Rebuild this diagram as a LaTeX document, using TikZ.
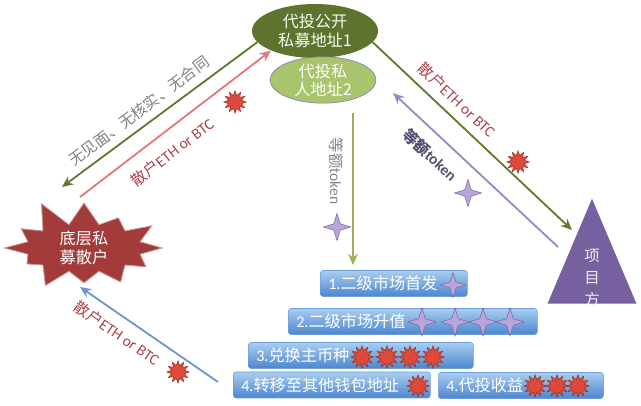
\documentclass[tikz,border=0pt]{standalone}
\usepackage{fontspec}
\setmainfont{Carlito}
\newfontfamily\cjk{Noto Sans CJK SC}
\usetikzlibrary{shapes.geometric,shapes.symbols,arrows.meta}

\definecolor{oliveD}{HTML}{5E742E}
\definecolor{oliveL}{HTML}{A8C46C}
\definecolor{lineG}{HTML}{64792F}
\definecolor{lineV}{HTML}{9AB259}
\definecolor{linePink}{HTML}{E2787B}
\definecolor{linePur}{HTML}{9B87C4}
\definecolor{lineBlue}{HTML}{6F95CF}
\definecolor{crowdRed}{HTML}{A33B3B}
\definecolor{triPur}{HTML}{77609F}
\definecolor{txtRed}{HTML}{AA454B}
\definecolor{txtGray}{HTML}{808080}
\definecolor{txtPur}{HTML}{54506F}
\definecolor{starRed}{HTML}{DD4A3C}
\definecolor{starPur}{HTML}{B9A5DC}
\definecolor{boxTop}{HTML}{A9CDF0}
\definecolor{boxBot}{HTML}{4C86CF}

\tikzset{
	lbl/.style={font=\fontsize{11}{13}\selectfont},
	arr/.style={line width=1.3pt,-{Stealth[length=8pt,width=7pt]}},
	redstar/.style={star, star points=12, star point ratio=1.7, minimum size=0.56cm, inner sep=0pt, fill=starRed, draw=starRed!70!black, line width=0.4pt},
	purstar/.style={star, star points=4, star point ratio=3, minimum size=0.68cm, inner sep=0pt, fill=starPur, draw=linePur!80!black, line width=0.4pt},
	box/.style={rectangle, rounded corners=2pt, top color=boxTop, bottom color=boxBot, draw=boxBot!80!white, text=white, inner xsep=0.2cm, inner ysep=0pt, minimum height=0.65cm, align=left, font=\fontsize{11.5}{13}\selectfont, anchor=west}
}

\begin{document}
\begin{tikzpicture}[x=0.025cm, y=-0.025cm]
	
	\useasboundingbox (0,0) rectangle (641,406);
	
	\node [ellipse, fill=oliveD, text=white!92!oliveL, minimum width=3.15cm, minimum height=1.35cm, inner sep=0pt, align=center, font=\cjk\fontsize{11.5}{14}\selectfont] (pub) at (315,31) {代投公开\\私募地址1};
	
	\node [ellipse, fill=oliveL, draw=blue!30!gray!80, text=white, minimum width=2.65cm, minimum height=1.05cm, inner sep=0pt, align=center, font=\cjk\fontsize{11.5}{12.8}\selectfont] (priv) at (323,80) {代投私\\人地址2};
	
	\node [starburst, starburst points=12, starburst point height=0.7cm, random starburst=11, fill=crowdRed, draw=crowdRed!55!white, line width=0.6pt, minimum width=4.3cm, minimum height=2.4cm, inner sep=0pt, text=white, align=center, font=\cjk\fontsize{11.5}{13.5}\selectfont] (crowd) at (84,248) {底层私\\募散户};
	
	\node [isosceles triangle, isosceles triangle apex angle=46, shape border rotate=90, isosceles triangle stretches, minimum width=2.225cm, minimum height=2.625cm, fill=triPur, inner sep=0pt, anchor=apex] (proj) at (592,198) {};
	\node [align=center, text=white!88!triPur, font=\cjk\fontsize{11}{15.6}\selectfont] (projlbl) at (592,278) {项\\目\\方};
	
	\coordinate (crowdin) at (62,187);
	\coordinate (crowdout) at (80,197);
	\coordinate (projin) at (572,230);
	\coordinate (projout) at (558,247);
	\coordinate (privin) at (393,93);
	\coordinate (tokstart) at (353,113);
	\coordinate (tokend) at (353,265);
	\coordinate (backstart) at (218,382);
	\coordinate (backend) at (80,287);
	
	\draw [arr, draw=lineG] (pub.191) -- (crowdin);
	\draw [arr, draw=linePink] (crowdout) -- (pub.204);
	\draw [arr, draw=lineG] (pub.-11) -- (projin);
	\draw [arr, draw=linePur] (projout) -- (privin);
	\draw [arr, draw=lineV] (tokstart) -- (tokend);
	\draw [arr, draw=lineBlue] (backstart) -- (backend);
	
	\node [lbl, text=txtGray, rotate=37] (nolbl) at (139,111) {\cjk 无见面、无核实、无合同};
	\node [lbl, text=txtRed, rotate=37.6] (paylbl) at (172,152) {{\cjk 散户}ETH or BTC};
	\node [lbl, text=txtRed, rotate=-43.5] (paylblr) at (457,100) {{\cjk 散户}ETH or BTC};
	\node [lbl, text=txtPur, rotate=-43] (toklbl) at (430,155) {\bfseries{\cjk 等额}token};
	\node [lbl, text=txtGray!80!linePur, rotate=-90] (toklbld) at (336,171) {{\cjk 等额}token};
	\node [lbl, text=txtRed, rotate=-34.5] (paylblb) at (117,333) {{\cjk 散户}ETH or BTC};
	
	\node [redstar] (rs1) at (235,102) {};
	\node [redstar] (rs2) at (518,162) {};
	\node [redstar] (rs3) at (178,372) {};
	\node [purstar] (ps1) at (468,193) {};
	\node [purstar] (ps2) at (337,227) {};
	
	\node [box, text width=3.275cm] (b1) at (320,283.5) {1.{\cjk 二级市场首发}};
	\node [box, text width=5.825cm] (b2) at (288,321.5) {2.{\cjk 二级市场升值}};
	\node [box, text width=5.225cm] (b3) at (248,355.5) {3.{\cjk 兑换主币种}};
	\node [box, text width=4.525cm] (b4) at (233,385) {4.{\cjk 转移至其他钱包地址}};
	\node [box, text width=3.725cm] (b5) at (438,385.5) {4.{\cjk 代投收益}};
	
	\node [purstar, minimum size=0.63cm] (b1s) at (453,285) {};
	\foreach \x [count=\i] in {422,455,483,510}
		\node [purstar, minimum size=0.7cm] (b2s\i) at (\x,322) {};
	\foreach \x [count=\i] in {362,387,410,433}
		\node [redstar] (b3s\i) at (\x,357) {};
	\node [redstar] (b4s) at (418,386) {};
	\foreach \x [count=\i] in {535,557,578}
		\node [redstar] (b5s\i) at (\x,386) {};
	
\end{tikzpicture}
\end{document}
